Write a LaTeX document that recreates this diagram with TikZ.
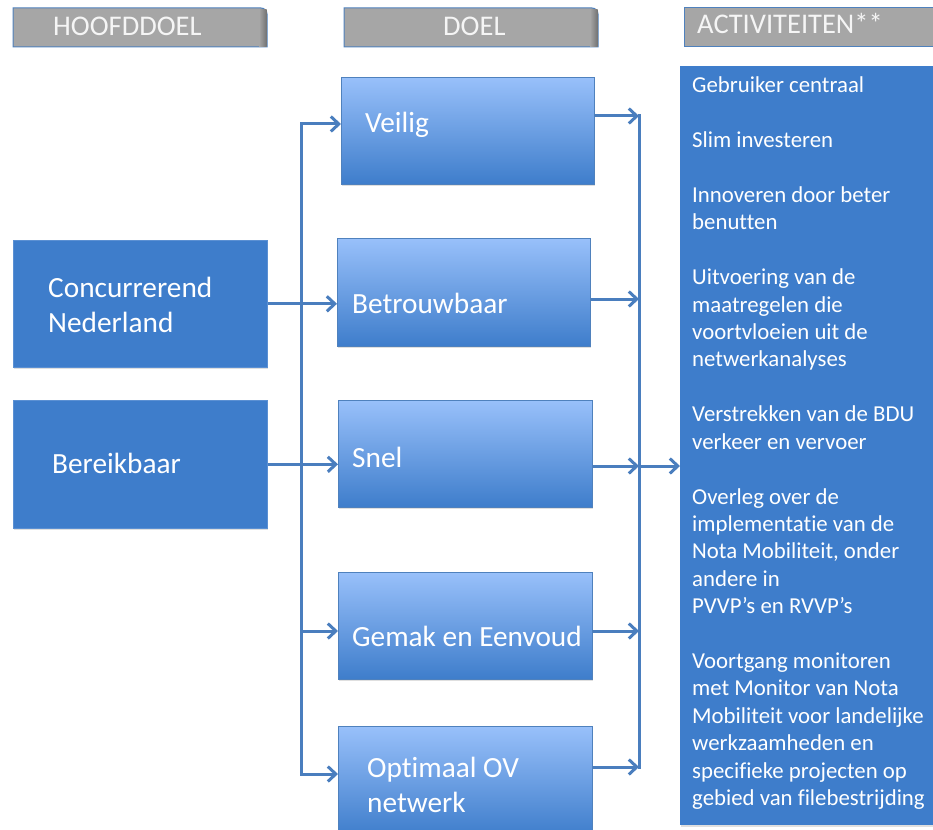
\documentclass[tikz,border=0pt]{standalone}
\usepackage{fontspec}
\setmainfont[Ligatures=NoCommon]{Carlito}
\usetikzlibrary{arrows.meta,shadows}
\definecolor{boxblue}{RGB}{62,125,203}
\definecolor{lightblue}{RGB}{152,192,250}
\definecolor{linkblue}{RGB}{74,126,190}
\definecolor{edgeblue}{RGB}{79,129,189}
\definecolor{hgray}{RGB}{166,166,166}
\definecolor{htext}{RGB}{245,245,245}
\begin{document}
\begin{tikzpicture}[x=1pt,y=-1pt,
  solidbox/.style={rectangle, fill=boxblue, draw=boxblue!85!white, line width=0.6pt, inner sep=0pt, anchor=north west,
    drop shadow={shadow xshift=1pt,shadow yshift=-2pt,opacity=0.25}},
  gradbox/.style={rectangle, top color=lightblue, bottom color=boxblue, draw=edgeblue, line width=0.8pt, inner sep=0pt, anchor=north west,
    drop shadow={shadow xshift=1pt,shadow yshift=-2pt,opacity=0.25}},
  boxw/.style={minimum width=254pt},
  bigtxt/.style={font=\fontsize{29.3}{35}\selectfont, text=white, inner sep=0pt, anchor=base west},
  hdrtxt/.style={font=\fontsize{28.5}{34}\selectfont, text=htext, inner sep=0pt, anchor=base west},
  acttxt/.style={font=\fontsize{22.8}{27.4}\selectfont, text=white, inner sep=0pt, anchor=base west},
  hdrshape/.style={fill=hgray, draw=edgeblue, line width=1pt},
  conn/.style={draw=linkblue, line width=3pt, -{Straight Barb[length=8pt,width=15pt]}},
  bus/.style={draw=linkblue, line width=3pt, line cap=rect}
]
\useasboundingbox (0,0) rectangle (933,829);

% headers
\filldraw[hdrshape] (13,47) -- (13,8) [rounded corners=6pt] -- (267,8) [sharp corners] -- (267,47) -- cycle;
\shade[left color=hgray, right color=black!55] (259,9.5) rectangle (266.5,46.5);
\filldraw[hdrshape] (344,47) -- (344,8) [rounded corners=6pt] -- (598,8) [sharp corners] -- (598,47) -- cycle;
\shade[left color=hgray, right color=black!55] (590,9.5) rectangle (597.5,46.5);
\filldraw[hdrshape] (684,47) -- (684,8) -- (940,8) -- (940,47) -- cycle;
\node[hdrtxt] (h1) at (53,36) {HOOFDDOEL};
\node[hdrtxt] (h2) at (443,36) {DOEL};
\node[hdrtxt] (h3) at (697,34) {ACTIVITEITEN**};

% left boxes
\node[solidbox, boxw, minimum height=127pt] (concur) at (13,240) {};
\node[solidbox, boxw, minimum height=128pt] (bereik) at (13,400) {};
\node[bigtxt] (concurt) at (48,297) {\vtop{\hbox{Concurrerend}\hbox{Nederland}}};
\node[bigtxt] (bereikt) at (52,473) {Bereikbaar};

% middle boxes
\node[gradbox, minimum width=253pt, minimum height=107pt] (veilig) at (341,77) {};
\node[gradbox, minimum width=253pt, minimum height=108pt] (betrouw) at (337,238) {};
\node[gradbox, minimum width=254pt, minimum height=107pt] (snel) at (338,400) {};
\node[gradbox, minimum width=254pt, minimum height=107pt] (gemak) at (338,572) {};
\node[gradbox, minimum width=254pt, minimum height=110pt] (optim) at (338,726) {};
\node[bigtxt] (veiligt) at (365,133) {Veilig};
\node[bigtxt] (betrouwt) at (352,313) {Betrouwbaar};
\node[bigtxt] (snelt) at (352,467) {Snel};
\node[bigtxt] (gemakt) at (352,646) {Gemak en Eenvoud};
\node[bigtxt] (optimt) at (367,777) {\vtop{\hbox{Optimaal OV}\hbox{netwerk}}};

% activities box
\node[solidbox, minimum width=260pt, minimum height=759pt, draw=none] (acts) at (680,66) {};
\node[acttxt] (actst) at (692,93) {\vtop{\baselineskip=27.4pt\lineskiplimit=-100pt\lineskip=0pt
  \hbox{Gebruiker centraal}\hbox{}
  \hbox{Slim investeren}\hbox{}
  \hbox{Innoveren door beter}\hbox{benutten}\hbox{}
  \hbox{Uitvoering van de}\hbox{maatregelen die}\hbox{voortvloeien uit de}\hbox{netwerkanalyses}\hbox{}
  \hbox{Verstrekken van de BDU}\hbox{verkeer en vervoer}\hbox{}
  \hbox{Overleg over de}\hbox{implementatie van de}\hbox{Nota Mobiliteit, onder}\hbox{andere in}\hbox{PVVP’s en RVVP’s}\hbox{}
  \hbox{Voortgang monitoren}\hbox{met Monitor van Nota}\hbox{Mobiliteit voor landelijke}\hbox{werkzaamheden en}\hbox{specifieke projecten op}\hbox{gebied van filebestrijding}}};

% bus coordinates
\coordinate (lb1) at (301,124);
\coordinate (lb2) at (301,631);
\coordinate (lb3) at (301,774);
\coordinate (rb1) at (639,116);
\coordinate (rb2) at (639,299);
\coordinate (rb3) at (639,466);
\coordinate (rb4) at (639,631);
\coordinate (rb5) at (639,767);

\draw[bus] (lb1) -- (lb3);
\draw[bus] (rb1) -- (rb5);

\draw[conn] (lb1) -- (lb1 -| veilig.west);
\draw[conn] (concur.east) -- (concur.east -| betrouw.west);
\draw[conn] (bereik.east) -- (bereik.east -| snel.west);
\draw[conn] (lb2) -- (lb2 -| gemak.west);
\draw[conn] (lb3) -- (lb3 -| optim.west);

\draw[conn] (veilig.east |- rb1) -- (rb1);
\draw[conn] (betrouw.east |- rb2) -- (rb2);
\draw[conn] (snel.east |- rb3) -- (rb3);
\draw[conn] (gemak.east |- rb4) -- (rb4);
\draw[conn] (optim.east |- rb5) -- (rb5);
\draw[conn] (rb3) -- (rb3 -| acts.west);
\end{tikzpicture}
\end{document}
